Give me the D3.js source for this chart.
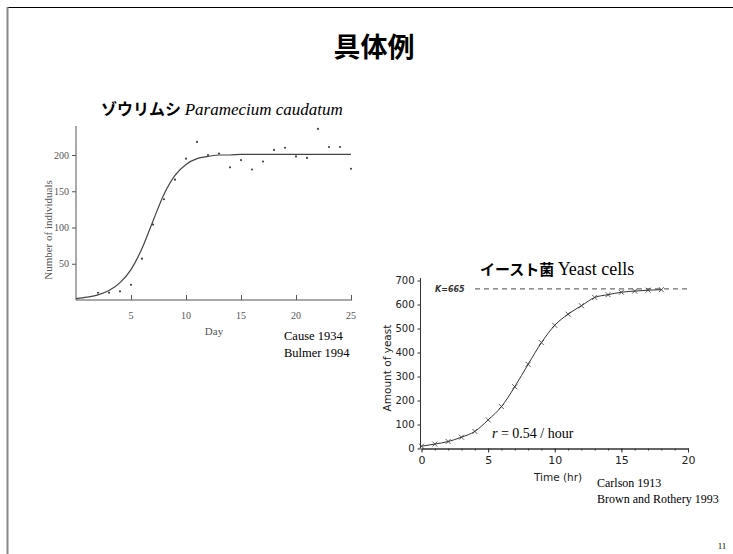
<!DOCTYPE html>
<html>
<head>
<meta charset="utf-8">
<script src="https://cdn.jsdelivr.net/npm/d3@7"></script>
<style>
  body { margin: 0; background: #fff; }
  svg { display: block; }
</style>
</head>
<body>
<div id="slide"></div>
<script>
// Paramecium caudatum (Gause 1934)
const paraDays = [2, 3, 4, 5, 6, 7, 8, 9, 10, 11, 12, 13, 14, 15, 16, 17, 18, 19, 20, 21, 22, 23, 24, 25];
const paraCounts = [10, 10, 12, 21, 57, 104, 139, 166, 195, 218, 200, 202, 183, 193, 180, 191, 207, 210, 198, 196, 236, 211, 211, 181];
const paraCurveDays = [0, 1, 2, 3, 4, 5, 6, 7, 8, 9, 10, 11, 12, 13, 14, 15, 16, 17, 18, 19, 20, 21, 22, 23, 24, 25];
const paraCurveVals = [2, 4, 7, 13, 24, 42, 71, 109, 146, 172, 187, 195, 198, 200, 200, 201, 201, 201, 201, 201, 201, 201, 201, 201, 201, 201];
const paraXTicks = [5, 10, 15, 20, 25];
const paraYTicks = [50, 100, 150, 200];

// Yeast (Carlson 1913)
const yeastHours = [0, 1, 2, 3, 4, 5, 6, 7, 8, 9, 10, 11, 12, 13, 14, 15, 16, 17, 18];
const yeastAmount = [9.6, 18.3, 29.0, 47.2, 71.1, 119.1, 174.6, 257.3, 350.7, 441.0, 513.3, 559.7, 594.8, 629.4, 640.8, 651.1, 655.9, 659.6, 661.8];
const yeastK = 665;
const yeastXTicks = [0, 5, 10, 15, 20];
const yeastYTicks = [0, 100, 200, 300, 400, 500, 600, 700];

const W = 733, H = 554;
const serif = "'Liberation Serif', 'DejaVu Serif', serif";
const jp = "'Noto Sans CJK JP', sans-serif";
const sans = "'DejaVu Sans', 'Liberation Sans', sans-serif";

const svg = d3.select("#slide").append("svg")
    .attr("width", W)
    .attr("height", H);

// slide frame
svg.append("line")
    .attr("x1", 7).attr("x2", W).attr("y1", 7.5).attr("y2", 7.5)
    .attr("stroke", "#000").attr("stroke-width", 1.2);
svg.append("line")
    .attr("x1", 7.5).attr("x2", 7.5).attr("y1", 7).attr("y2", H)
    .attr("stroke", "#888").attr("stroke-width", 2);

svg.append("text")
    .attr("x", 374).attr("y", 57)
    .attr("text-anchor", "middle")
    .style("font-family", jp).style("font-size", "27px").style("font-weight", "bold")
    .text("具体例");

svg.append("text")
    .attr("x", 722).attr("y", 549)
    .attr("text-anchor", "middle")
    .style("font-family", serif).style("font-size", "9px").style("fill", "#000")
    .text("11");

// ---------- left chart ----------
const px = d3.scaleLinear().domain([0, 25]).range([76, 351]);
const py = d3.scaleLinear().domain([0, 200]).range([300, 155]);
const left = svg.append("g");

const pt = left.append("text").attr("x", 101).attr("y", 115);
pt.append("tspan").style("font-family", jp).style("font-size", "16px").style("font-weight", "bold").text("ゾウリムシ ");
pt.append("tspan").style("font-family", serif).style("font-size", "17px").style("font-style", "italic").text("Paramecium caudatum");

const pxAxis = left.append("g")
    .attr("transform", `translate(0,${py(0)})`)
    .call(d3.axisTop(px).tickValues(paraXTicks).tickSize(5).tickSizeOuter(0).tickFormat(""));
pxAxis.select(".domain").attr("d", `M${px(0)},0H${px(25.1)}`);
pxAxis.selectAll("line, path").attr("stroke", "#555");

left.selectAll(".pxlab")
    .data(paraXTicks)
    .join("text")
    .attr("class", "pxlab")
    .attr("x", d => px(d))
    .attr("y", 319)
    .attr("text-anchor", "middle")
    .style("font-family", serif).style("font-size", "10px").style("fill", "#555")
    .text(d => d);

const pyAxis = left.append("g")
    .attr("transform", `translate(${px(0)},0)`)
    .call(d3.axisLeft(py).tickValues(paraYTicks).tickSize(4).tickSizeOuter(0).tickPadding(3));
pyAxis.select(".domain").attr("d", `M0,${py(0)}V${py(240)}`);
pyAxis.selectAll("line, path").attr("stroke", "#555");
pyAxis.selectAll("text").style("font-family", serif).style("font-size", "10px").style("fill", "#555");

left.append("text")
    .attr("x", 214).attr("y", 335)
    .attr("text-anchor", "middle")
    .style("font-family", serif).style("font-size", "11px").style("fill", "#555")
    .text("Day");

left.append("text")
    .attr("transform", "rotate(-90)")
    .attr("x", -230).attr("y", 52)
    .attr("text-anchor", "middle")
    .style("font-family", serif).style("font-size", "11px").style("fill", "#555")
    .text("Number of individuals");

left.append("path")
    .datum(paraCurveDays.map((d, i) => [d, paraCurveVals[i]]))
    .attr("fill", "none")
    .attr("stroke", "#444")
    .attr("stroke-width", 1.2)
    .attr("d", d3.line().x(d => px(d[0])).y(d => py(d[1])).curve(d3.curveMonotoneX));

left.selectAll(".pdot")
    .data(paraDays.map((d, i) => [d, paraCounts[i]]))
    .join("circle")
    .attr("class", "pdot")
    .attr("cx", d => px(d[0]))
    .attr("cy", d => py(d[1]))
    .attr("r", 1.1)
    .attr("fill", "#444");

left.append("text").attr("x", 284).attr("y", 340)
    .style("font-family", serif).style("font-size", "12.5px")
    .text("Cause 1934");
left.append("text").attr("x", 284).attr("y", 357)
    .style("font-family", serif).style("font-size", "12.5px")
    .text("Bulmer 1994");

// ---------- right chart ----------
const yx = d3.scaleLinear().domain([0, 20]).range([421.5, 688]);
const yy = d3.scaleLinear().domain([0, 700]).range([448.5, 280.5]);
const right = svg.append("g");

const yt = right.append("text").attr("x", 480).attr("y", 275);
yt.append("tspan").style("font-family", jp).style("font-size", "15px").style("font-weight", "bold").text("イースト菌 ");
yt.append("tspan").style("font-family", serif).style("font-size", "18px").text("Yeast cells");

// minor ticks every hour
right.append("g")
    .attr("transform", `translate(0,${yy(0)})`)
    .call(d3.axisBottom(yx).ticks(20).tickSize(2).tickSizeOuter(0).tickFormat(""))
    .call(g => g.selectAll("line, path").attr("stroke", "#333"));

const yxAxis = right.append("g")
    .attr("transform", `translate(0,${yy(0)})`)
    .call(d3.axisBottom(yx).tickValues(yeastXTicks).tickSize(4).tickSizeOuter(0).tickPadding(4));
yxAxis.selectAll("line, path").attr("stroke", "#333");
yxAxis.selectAll("text").style("font-family", sans).style("font-size", "11px").style("fill", "#222");

const yyAxis = right.append("g")
    .attr("transform", `translate(${yx(0) - 1},0)`)
    .call(d3.axisLeft(yy).tickValues(yeastYTicks).tickSize(3).tickSizeOuter(0).tickPadding(3));
yyAxis.select(".domain").attr("d", `M0,${yy(0)}V${yy(710)}`);
yyAxis.selectAll("line, path").attr("stroke", "#333");
yyAxis.selectAll("text").style("font-family", sans).style("font-size", "10px").style("fill", "#222");

right.append("text")
    .attr("x", 558).attr("y", 481)
    .attr("text-anchor", "middle")
    .style("font-family", sans).style("font-size", "10.5px").style("fill", "#222")
    .text("Time (hr)");

right.append("text")
    .attr("transform", "rotate(-90)")
    .attr("x", -368).attr("y", 391)
    .attr("text-anchor", "middle")
    .style("font-family", sans).style("font-size", "10.5px").style("fill", "#222")
    .text("Amount of yeast");

right.append("line")
    .attr("x1", 475).attr("x2", yx(20))
    .attr("y1", yy(yeastK)).attr("y2", yy(yeastK))
    .attr("stroke", "#333").attr("stroke-width", 0.9)
    .attr("stroke-dasharray", "5,4");

right.append("text")
    .attr("x", 435).attr("y", 292)
    .style("font-family", sans).style("font-size", "8px")
    .style("font-style", "italic").style("font-weight", "bold").style("fill", "#333")
    .text("K=" + yeastK);

right.append("path")
    .datum(yeastHours.map((d, i) => [d, yeastAmount[i]]))
    .attr("fill", "none")
    .attr("stroke", "#333")
    .attr("stroke-width", 1)
    .attr("d", d3.line().x(d => yx(d[0])).y(d => yy(d[1])).curve(d3.curveMonotoneX));

right.selectAll(".ymark")
    .data(yeastHours.map((d, i) => [d, yeastAmount[i]]))
    .join("path")
    .attr("class", "ymark")
    .attr("transform", d => `translate(${yx(d[0])},${yy(d[1])})`)
    .attr("d", "M-2.5,-2.5L2.5,2.5M-2.5,2.5L2.5,-2.5")
    .attr("stroke", "#333")
    .attr("stroke-width", 0.8);

const rt = right.append("text").attr("x", 492).attr("y", 438)
    .style("font-family", serif).style("font-size", "14px");
rt.append("tspan").style("font-style", "italic").text("r");
rt.append("tspan").text(" = 0.54 / hour");

right.append("text").attr("x", 597).attr("y", 487)
    .style("font-family", serif).style("font-size", "12px")
    .text("Carlson 1913");
right.append("text").attr("x", 597).attr("y", 503)
    .style("font-family", serif).style("font-size", "12px")
    .text("Brown and Rothery 1993");
</script>
</body>
</html>
